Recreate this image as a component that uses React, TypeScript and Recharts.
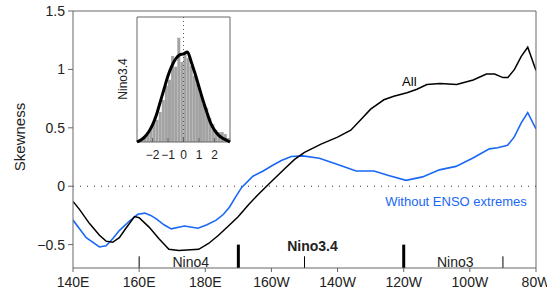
import {
  Bar,
  BarChart,
  Line,
  LineChart,
  ReferenceDot,
  ReferenceLine,
  XAxis,
  YAxis,
} from 'recharts';

// Longitude in degrees east (180 = dateline, 280 = 80W)
const allLon = [
  140, 142, 145, 148, 150, 152, 154, 156, 158.6, 160, 163, 166, 169, 172, 178, 181, 184, 187,
  190, 193, 196, 200, 204, 207, 210, 215, 220, 224, 227, 230, 234, 237, 241, 244, 247, 251,
  256, 261, 265, 267.5, 270, 271.5, 273.5, 275.5, 277.5, 280,
];
const allSkew = [
  -0.13, -0.2, -0.32, -0.42, -0.47, -0.48, -0.44, -0.36, -0.26, -0.27, -0.35, -0.45, -0.54,
  -0.55, -0.54, -0.49, -0.42, -0.34, -0.26, -0.16, -0.07, 0.04, 0.15, 0.23, 0.29, 0.36, 0.42,
  0.48, 0.57, 0.66, 0.74, 0.77, 0.8, 0.83, 0.87, 0.88, 0.87, 0.91, 0.96, 0.96, 0.93, 0.93, 1.0,
  1.11, 1.19, 0.99,
];

const cleanLon = [
  140, 144, 148, 150, 152, 154, 157, 159.6, 161.7, 163.5, 165.2, 167.5, 169.7, 173.7, 177.8,
  180.5, 183.3, 185.5, 187.3, 189, 191, 194.4, 197.5, 200.4, 203, 206, 209.5, 214.5, 219.6,
  225.6, 231, 235.7, 240.7, 245.7, 250.8, 255.8, 260.8, 265.9, 268.4, 271.4, 273.4, 275.5,
  277.5, 280,
];
const cleanSkew = [
  -0.29, -0.44, -0.52, -0.51, -0.45, -0.38, -0.3, -0.24, -0.23, -0.25, -0.28, -0.33, -0.365,
  -0.34, -0.36, -0.33, -0.29, -0.24, -0.18, -0.1, -0.01, 0.086, 0.13, 0.18, 0.22, 0.255, 0.26,
  0.24, 0.19, 0.13, 0.13, 0.09, 0.05, 0.08, 0.14, 0.17, 0.24, 0.32, 0.33, 0.35, 0.42, 0.54,
  0.63, 0.49,
];

const lonTicks = [140, 160, 180, 200, 220, 240, 260, 280];
const lonLabels = ['140E', '160E', '180E', '160W', '140W', '120W', '100W', '80W'];
const skewTicks = [-0.5, 0, 0.5, 1, 1.5];

// Nino box edges: thin = Nino4 / Nino3 limits, thick = Nino3.4 limits
const ninoThin = [160, 210, 270];
const ninoThick = [190, 240];
const ninoNames = ['Nino4', 'Nino3.4', 'Nino3'];
const ninoLabelLon = [175.6, 212.4, 255.6];
const ninoLabelY = [-0.65, -0.51, -0.65];

// Inset: histogram of the Nino3.4 index with fitted curve
const histX = [
  -2.9, -2.7, -2.5, -2.3, -2.1, -1.9, -1.7, -1.5, -1.3, -1.1, -0.9, -0.7, -0.5, -0.3, -0.1, 0.1,
  0.3, 0.5, 0.7, 0.9, 1.1, 1.3, 1.5, 1.7, 1.9, 2.1, 2.3, 2.5, 2.7, 2.9,
];
const histDensity = [
  0.007, 0.011, 0.021, 0.035, 0.049, 0.071, 0.078, 0.106, 0.148, 0.198, 0.219, 0.303, 0.265,
  0.367, 0.282, 0.31, 0.296, 0.268, 0.233, 0.205, 0.169, 0.134, 0.12, 0.085, 0.063, 0.042,
  0.035, 0.035, 0.028, 0.014,
];
const fitX = [
  -3, -2.75, -2.5, -2.25, -2, -1.75, -1.5, -1.25, -1, -0.75, -0.5, -0.25, 0, 0.25, 0.5, 0.75, 1,
  1.25, 1.5, 1.75, 2, 2.25, 2.5, 2.75, 3,
];
const fitDensity = [
  0, 0.007, 0.018, 0.035, 0.06, 0.095, 0.141, 0.187, 0.233, 0.268, 0.293, 0.307, 0.31, 0.317,
  0.282, 0.24, 0.194, 0.148, 0.106, 0.067, 0.042, 0.025, 0.014, 0.007, 0,
];
const insetTicks = [-2, -1, 0, 1, 2];
const insetYTicks = [0.2, 0.4];

const BLUE = '#1a68f5';
const AXIS = '#666';
const FONT = '"Liberation Sans", Arial, Helvetica, sans-serif';

const allData = allLon.map((lon, i) => ({ lon, skew: allSkew[i] }));
const cleanData = cleanLon.map((lon, i) => ({ lon, skew: cleanSkew[i] }));
const histData = histX.map((x, i) => ({ x, d: histDensity[i] }));
const fitData = fitX.map((x, i) => ({ x, d: fitDensity[i] }));

const minus = (v: number) => String(v).replace('-', '\u2212');
const tickText = { fill: '#222', fontSize: 14 };

const INSET_W = 130;
const INSET_H = 158;
const insetMargin = { top: 10, right: 9, bottom: 0, left: 0 };

// both inset layers share the same axes so they line up exactly
function insetAxes(showText: boolean) {
  return [
    <XAxis
      key="xb"
      xAxisId="b"
      type="number"
      dataKey="x"
      domain={[-3, 3]}
      ticks={insetTicks}
      tickFormatter={minus}
      height={22}
      tickSize={-4}
      tickMargin={12}
      tick={showText ? { fill: '#222', fontSize: 12 } : false}
      stroke={showText ? AXIS : 'none'}
      interval={0}
    />,
    <XAxis
      key="xt"
      xAxisId="t"
      orientation="top"
      type="number"
      domain={[-3, 3]}
      ticks={insetTicks}
      height={1}
      tickSize={-3}
      tick={false}
      stroke={showText ? AXIS : 'none'}
    />,
    <YAxis
      key="yl"
      yAxisId="l"
      type="number"
      domain={[0, 0.44]}
      ticks={insetYTicks}
      width={27}
      tickSize={-3}
      tick={false}
      stroke={showText ? AXIS : 'none'}
      label={
        showText
          ? {
              content: () => (
                <text
                  x={13}
                  y={73}
                  transform="rotate(-90 13 73)"
                  textAnchor="middle"
                  dominantBaseline="central"
                  fontSize={12}
                  fill="#222"
                >
                  Nino3.4
                </text>
              ),
            }
          : undefined
      }
    />,
    <YAxis
      key="yr"
      yAxisId="r"
      orientation="right"
      type="number"
      domain={[0, 0.44]}
      ticks={insetYTicks}
      width={1}
      tickSize={-3}
      tick={false}
      stroke={showText ? AXIS : 'none'}
    />,
  ];
}

export default function App() {
  return (
    <div style={{ position: 'absolute', left: 0, top: 0, width: 547, height: 296, fontFamily: FONT, background: '#fff' }}>
      <LineChart width={547} height={296} margin={{ top: 10, right: 10, bottom: 0, left: 0 }}>
        <XAxis
          xAxisId="b"
          type="number"
          dataKey="lon"
          domain={[140, 280]}
          ticks={lonTicks}
          tickFormatter={(v) => lonLabels[lonTicks.indexOf(v)] ?? ''}
          height={28}
          tickSize={4}
          tickMargin={5}
          tick={tickText}
          stroke={AXIS}
          interval={0}
          allowDataOverflow
        />
        <XAxis
          xAxisId="t"
          orientation="top"
          type="number"
          domain={[140, 280]}
          ticks={lonTicks}
          height={1}
          tickSize={-5}
          tick={false}
          stroke={AXIS}
        />
        <YAxis
          yAxisId="l"
          type="number"
          domain={[-0.7, 1.5]}
          ticks={skewTicks}
          tickFormatter={minus}
          width={73}
          tickSize={5}
          tickMargin={3}
          tick={tickText}
          stroke={AXIS}
          interval={0}
          allowDataOverflow
          label={{
            content: () => (
              <text
                x={19}
                y={137}
                transform="rotate(-90 19 137)"
                textAnchor="middle"
                dominantBaseline="central"
                fontSize={15}
                fill="#222"
              >
                Skewness
              </text>
            ),
          }}
        />
        <YAxis
          yAxisId="r"
          orientation="right"
          type="number"
          domain={[-0.7, 1.5]}
          ticks={skewTicks}
          width={1}
          tickSize={-5}
          tick={false}
          stroke={AXIS}
        />
        <ReferenceLine xAxisId="b" yAxisId="l" y={0} stroke="#333" strokeDasharray="1 6" />
        {ninoThin.map((lon) => (
          <ReferenceLine
            key={`thin-${lon}`}
            xAxisId="b"
            yAxisId="l"
            segment={[{ x: lon, y: -0.7 }, { x: lon, y: -0.6 }]}
            stroke="#000"
            strokeWidth={1}
          />
        ))}
        {ninoThick.map((lon) => (
          <ReferenceLine
            key={`thick-${lon}`}
            xAxisId="b"
            yAxisId="l"
            segment={[{ x: lon, y: -0.7 }, { x: lon, y: -0.5 }]}
            stroke="#000"
            strokeWidth={3}
          />
        ))}
        <Line
          xAxisId="b"
          yAxisId="l"
          data={cleanData}
          dataKey="skew"
          type="linear"
          stroke={BLUE}
          strokeWidth={1.6}
          dot={false}
          isAnimationActive={false}
        />
        <Line
          xAxisId="b"
          yAxisId="l"
          data={allData}
          dataKey="skew"
          type="linear"
          stroke="#000"
          strokeWidth={1.5}
          dot={false}
          isAnimationActive={false}
        />
        {ninoNames.map((name, i) => (
          <ReferenceDot
            key={name}
            xAxisId="b"
            yAxisId="l"
            x={ninoLabelLon[i]}
            y={ninoLabelY[i]}
            r={0}
            fill="none"
            stroke="none"
            label={{
              value: name,
              position: 'center',
              fill: '#222',
              fontSize: 14,
              fontWeight: name === 'Nino3.4' ? 'bold' : 'normal',
            }}
          />
        ))}
        <ReferenceDot
          xAxisId="b"
          yAxisId="l"
          x={241.7}
          y={0.9}
          r={0}
          fill="none"
          stroke="none"
          label={{ value: 'All', position: 'center', fill: '#000', fontSize: 13 }}
        />
        <ReferenceDot
          xAxisId="b"
          yAxisId="l"
          x={255.8}
          y={-0.127}
          r={0}
          fill="none"
          stroke="none"
          label={{ value: 'Without ENSO extremes', position: 'center', fill: BLUE, fontSize: 13 }}
        />
      </LineChart>

      <div style={{ position: 'absolute', left: 110, top: 6 }}>
        <BarChart
          width={INSET_W}
          height={INSET_H}
          data={histData}
          barGap={0}
          barCategoryGap={0}
          margin={insetMargin}
        >
          {insetAxes(true)}
          <Bar xAxisId="b" yAxisId="l" dataKey="d" fill="#a3a3a3" barSize={3} isAnimationActive={false} />
        </BarChart>
      </div>
      <div style={{ position: 'absolute', left: 110, top: 6 }}>
        <LineChart width={INSET_W} height={INSET_H} data={fitData} margin={insetMargin}>
          {insetAxes(false)}
          <ReferenceLine xAxisId="b" yAxisId="l" x={0} stroke="#555" strokeDasharray="1 3" />
          <Line
            xAxisId="b"
            yAxisId="l"
            dataKey="d"
            type="monotone"
            stroke="#000"
            strokeWidth={3}
            dot={false}
            isAnimationActive={false}
          />
        </LineChart>
      </div>
    </div>
  );
}
